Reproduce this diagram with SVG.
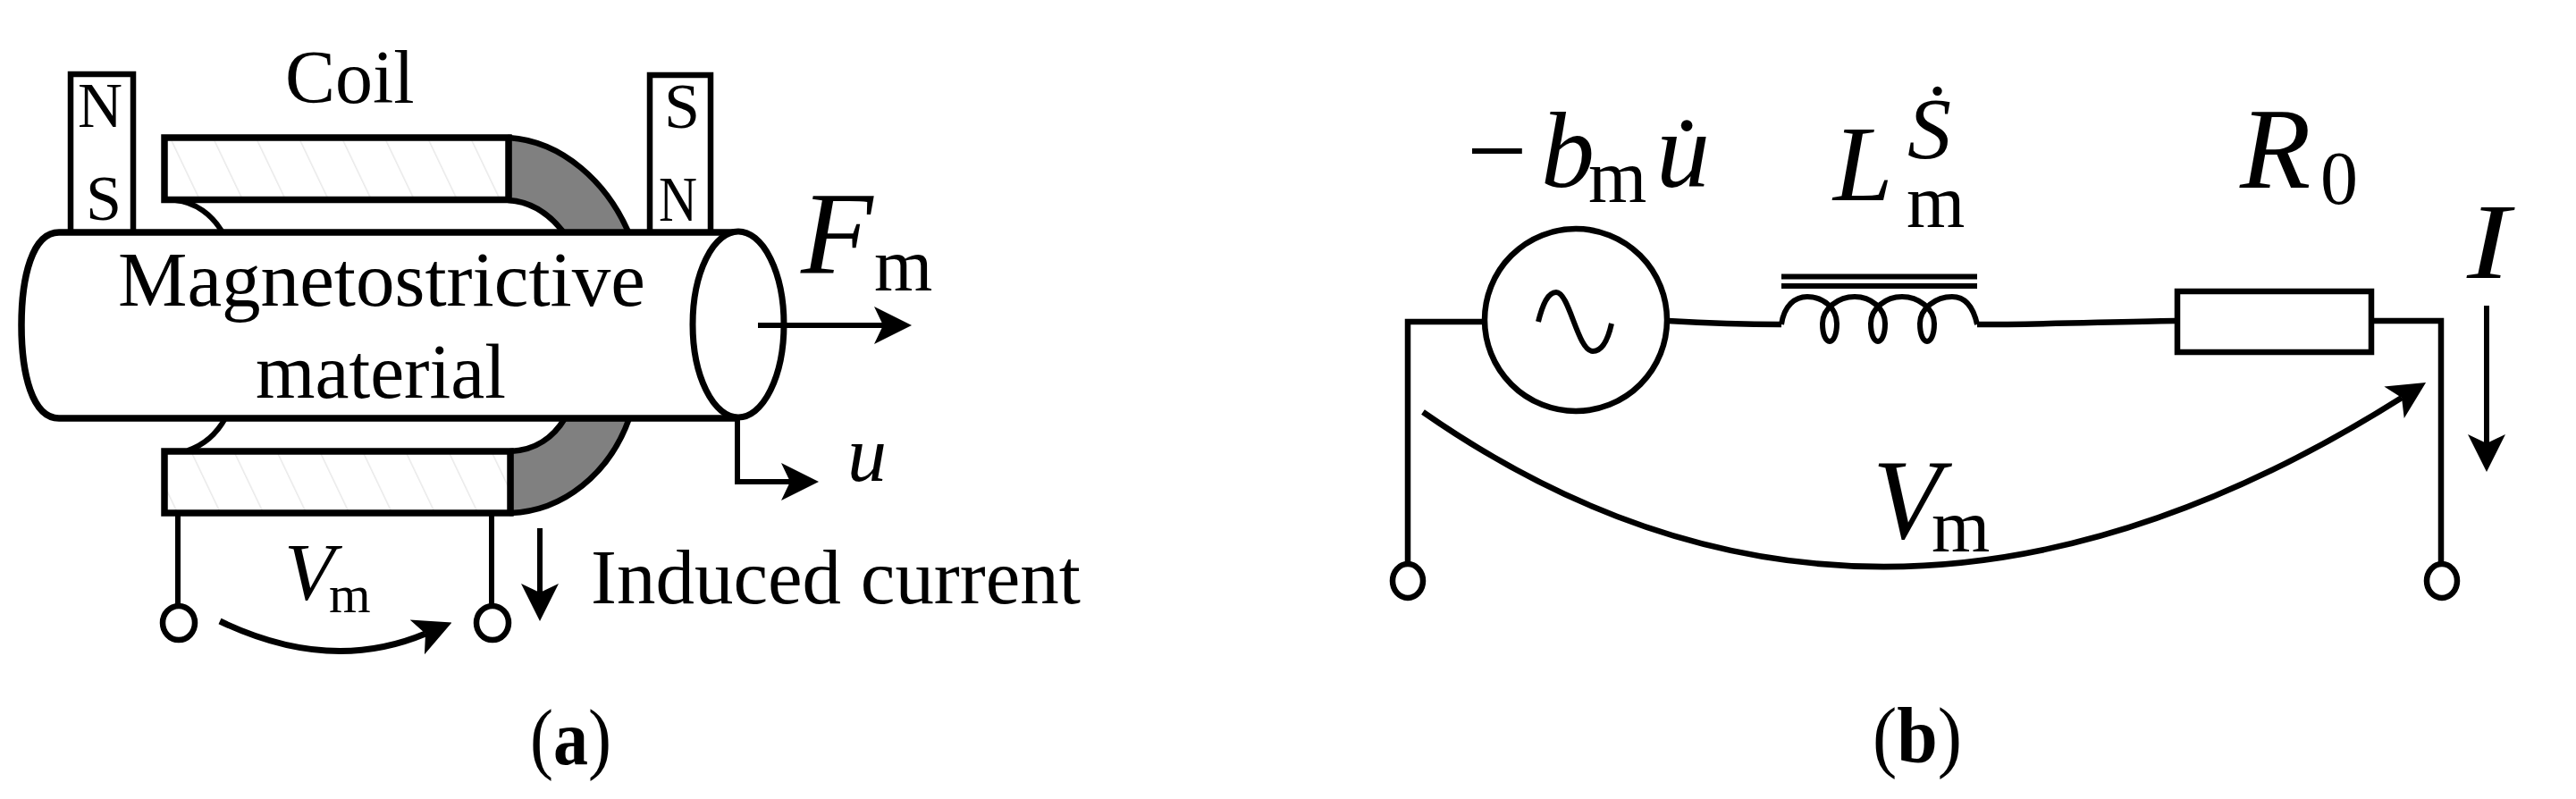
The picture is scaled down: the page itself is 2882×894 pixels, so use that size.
<svg xmlns="http://www.w3.org/2000/svg" width="2882" height="894" viewBox="0 0 2882 894">
<style>
text{font-family:"Liberation Serif","Times New Roman",serif;fill:#000}
.i{font-style:italic}
.s{fill:none;stroke:#000;stroke-width:6}
.w{fill:#fff;stroke:#000;stroke-width:6.5}
.g{fill:#808080;stroke:#000;stroke-width:6.5;stroke-linejoin:round}
.h{fill:url(#hatch);stroke:#000;stroke-width:7.500}
.a{fill:none;stroke:#000;stroke-width:6;marker-end:url(#head)}
.t70{font-size:72px}.t87{font-size:87px}.t120{font-size:120px}.t84{font-size:84px}
</style>
<defs>
<pattern id="hatch" patternUnits="userSpaceOnUse" width="48" height="10" patternTransform="skewX(25.5)">
<rect width="48" height="10" fill="#fff"/><rect x="20" width="1.6" height="10" fill="#e9e9e9"/>
</pattern>
<marker id="head" markerUnits="userSpaceOnUse" markerWidth="42" markerHeight="44" viewBox="0 0 42 44" refX="10" refY="22" orient="auto">
<path d="M0 1L42 22L0 43L10 22Z" fill="#000"/>
</marker>
</defs>
<rect width="2882" height="894" fill="#fff"/>

<g id="magnet-left">
<rect class="w" x="79" y="83" width="70" height="178"/>
<text class="t70" x="87" y="142" textLength="50" lengthAdjust="spacingAndGlyphs">N</text>
<text class="t70" x="96" y="246">S</text>
</g>
<g id="magnet-right">
<rect class="w" x="727" y="84" width="68" height="177"/>
<text class="t70" x="743" y="143">S</text>
<text class="t70" x="737" y="247" textLength="43" lengthAdjust="spacingAndGlyphs">N</text>
</g>
<g id="coil-top">
<path class="s" d="M196 224C218 226 238 240 250 262"/>
<path class="g" d="M569 154C630 158 680 205 704 262H632C618 243 598 226 569 224Z"/>
<rect class="h" x="184" y="154" width="385" height="69.5"/>
<text class="t84" x="319" y="115">Coil</text>
</g>
<g id="coil-bottom">
<path class="s" d="M210 504C228 498 242 486 252 468"/>
<path class="g" d="M571 574C630 572 682 530 704 468H632C620 488 600 504 571 505Z"/>
<rect class="h" x="184" y="505" width="387" height="69"/>
</g>
<g id="rod">
<path class="w" style="stroke-width:7.500" d="M826 260H66C36 260 24 310 24 364C24 418 36 468 66 468H826"/>
<ellipse class="w" style="stroke-width:7" cx="826" cy="363" rx="51" ry="104"/>
<text class="t87" x="132" y="342" textLength="590" lengthAdjust="spacingAndGlyphs">Magnetostrictive</text>
<text class="t87" x="286" y="445" textLength="280" lengthAdjust="spacingAndGlyphs">material</text>
</g>
<g id="terminals-a">
<ellipse class="w" cx="200" cy="697" rx="18" ry="19"/>
<ellipse class="w" cx="551" cy="697" rx="18" ry="19"/>
</g>
<g id="source">
<circle class="w" cx="1763" cy="358" r="102"/>
<path class="s" d="M1721 360C1726 340 1732 327 1741 327C1756 327 1765 393 1782 393C1793 393 1799 380 1803 362"/>
</g>
<g id="inductor">
<path class="s" d="M1993 309.500H2212M1993 320H2212"/>
<path class="s" d="M1993 363C1996 342 2008 332 2022 332C2040 332 2055 345 2055 362C2055 375 2051 382 2047 382C2043 382 2039 375 2039 362C2039 345 2057 332 2075 332C2093 332 2109 345 2109 362C2109 375 2105 382 2101 382C2097 382 2093 375 2093 362C2093 345 2110 332 2128 332C2146 332 2164 345 2164 362C2164 375 2160 382 2156 382C2152 382 2148 375 2148 362C2148 345 2166 332 2184 332C2200 332 2208 345 2212 363"/>
</g>
<g id="resistor">
<rect class="w" x="2436" y="326" width="217" height="68"/>
</g>
<g id="terminals-b">
<ellipse class="w" cx="1575" cy="650" rx="17" ry="19"/>
<ellipse class="w" cx="2732" cy="650" rx="17" ry="19"/>
</g>

<g id="connectors">
<path class="s" d="M199 577V678M550 577V678"/>
<path class="a" d="M848 364H988"/>
<path class="a" d="M825 468V539H884"/>
<path class="a" d="M604 591V663"/>
<path class="a" style="stroke-width:7" d="M246 695Q369 754 476 709"/>
<path class="s" style="stroke-width:6.500" d="M1660 360H1575V631M1866 359C1900 361 1950 363 1993 363M2212 363C2290 363 2360 360 2434 359M2655 359H2731V631"/>
<path class="a" style="stroke-width:6.500" d="M1592 461Q2100 815 2687 445"/>
<path class="a" d="M2782 342V496"/>
</g>

<g id="labels">
<text style="font-size:132px" y="306"><tspan class="i" x="896">F</tspan><tspan class="t84" x="978" y="325">m</tspan></text>
<text class="i" style="font-size:88px" x="948" y="538">u</text>
<text style="font-size:92px" y="671"><tspan class="i" x="318">V</tspan><tspan style="font-size:60px" x="368" y="685">m</tspan></text>
<text class="t87" x="661" y="675" textLength="548" lengthAdjust="spacingAndGlyphs">Induced current</text>
<text style="font-size:88px" x="593" y="855" textLength="91" lengthAdjust="spacingAndGlyphs">(<tspan font-weight="bold">a</tspan>)</text>

<text class="t120" y="209"><tspan x="1641">−</tspan><tspan class="i" x="1724">b</tspan><tspan class="t84" x="1777" y="226">m</tspan><tspan class="i" x="1853" y="209">u̇</tspan></text>
<text class="t120" y="224"><tspan class="i" x="2051">L</tspan><tspan class="i" style="font-size:98px" x="2134" y="177">Ṡ</tspan><tspan class="t84" x="2133" y="254">m</tspan></text>
<text style="font-size:130px" y="210"><tspan class="i" x="2506">R</tspan><tspan class="t84" x="2596" y="228">0</tspan></text>
<text class="i t120" x="2760" y="311" textLength="48" lengthAdjust="spacingAndGlyphs">I</text>
<text style="font-size:126px" y="602"><tspan class="i" x="2095">V</tspan><tspan class="t84" x="2161" y="617">m</tspan></text>
<text style="font-size:88px" x="2095" y="853" textLength="100" lengthAdjust="spacingAndGlyphs">(<tspan font-weight="bold">b</tspan>)</text>
</g>
</svg>
